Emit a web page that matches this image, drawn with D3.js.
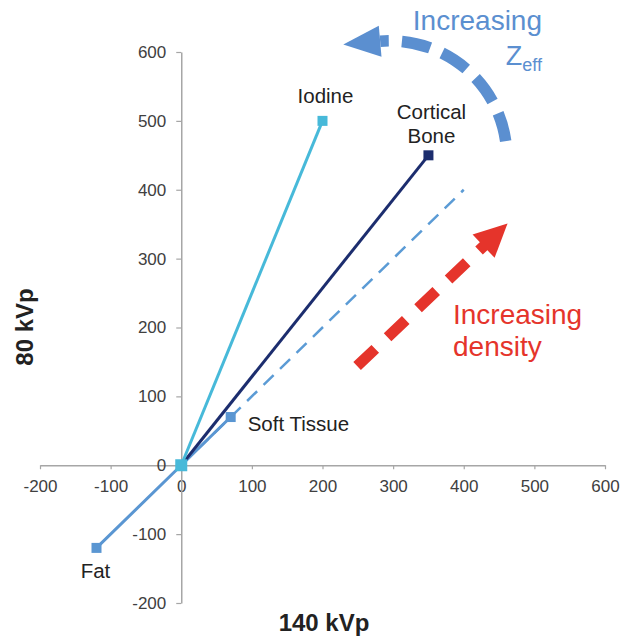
<!DOCTYPE html>
<html>
<head>
<meta charset="utf-8">
<script src="https://cdn.jsdelivr.net/npm/d3@7"></script>
<style>
  body { margin: 0; background: #fff; }
  svg { font-family: "Liberation Sans", Arial, sans-serif; }
</style>
</head>
<body>
<div id="chart"></div>
<script>
// data
var axisTicks = [-200, -100, 0, 100, 200, 300, 400, 500, 600];
var materials = ["Iodine", "Cortical Bone", "Soft Tissue", "Fat"];
var hu140 = [200, 350, 70, -120];
var hu80 = [500, 450, 70, -120];
var origin = [0, 0];
var waterLine = [[0, 0], [400, 400]];

// annotation anchors, in data units (140 kVp, 80 kVp)
var densityArrow = [[249, 144], [462, 351]];
var zeffArc = { center: [296, 447], radius: 165, from: -8, to: -95 };

var width = 633, height = 638;

var x = d3.scaleLinear().domain([-200, 600]).range([40, 605]);
var y = d3.scaleLinear().domain([-200, 600]).range([603, 52]);

var svg = d3.select("#chart")
  .append("svg")
  .attr("width", width)
  .attr("height", height);

// axes (plain hyphen for negatives, like the original)
var fmt = function (d) { return String(d); };

var xAxis = svg.append("g")
  .attr("transform", "translate(0," + y(0) + ")")
  .call(d3.axisBottom(x).tickValues(axisTicks).tickFormat(fmt)
    .tickSizeInner(4).tickSizeOuter(0).tickPadding(11));

var yAxis = svg.append("g")
  .attr("transform", "translate(" + x(0) + ",0)")
  .call(d3.axisLeft(y).tickValues(axisTicks).tickFormat(fmt)
    .tickSizeInner(5).tickSizeOuter(0).tickPadding(10));

[xAxis, yAxis].forEach(function (a) {
  a.select(".domain").attr("stroke", "#a6a6a6").attr("stroke-width", 1.5);
  a.selectAll(".tick line").attr("stroke", "#a6a6a6").attr("stroke-width", 1.2);
  a.selectAll(".tick text")
    .attr("fill", "#404040")
    .style("font-size", "17px")
    .style("font-family", "'Liberation Sans', Arial, sans-serif");
});

// axis titles
svg.append("text")
  .attr("x", 324).attr("y", 631)
  .attr("text-anchor", "middle")
  .style("font-size", "24px").style("font-weight", "bold")
  .attr("fill", "#222")
  .text("140 kVp");

svg.append("text")
  .attr("transform", "translate(33,327) rotate(-90)")
  .attr("text-anchor", "middle")
  .style("font-size", "24px").style("font-weight", "bold")
  .attr("fill", "#222")
  .text("80 kVp");

var line = d3.line().x(function (d) { return x(d[0]); }).y(function (d) { return y(d[1]); });

// water / reference dashed line
svg.append("path")
  .datum(waterLine)
  .attr("d", line)
  .attr("fill", "none")
  .attr("stroke", "#5b9bd5")
  .attr("stroke-width", 2.5)
  .attr("stroke-dasharray", "14,9");

var pts = materials.map(function (m, i) { return [hu140[i], hu80[i]]; });

var series = [
  { pts: [pts[3], origin, pts[2]], color: "#5a96d2", marks: [pts[3], pts[2]], size: 10 },
  { pts: [origin, pts[1]], color: "#1c2d6e", marks: [pts[1]], size: 10 },
  { pts: [origin, pts[0]], color: "#47b9d9", marks: [pts[0]], size: 10 },
  { pts: [origin], color: "#47b9d9", marks: [origin], size: 12 }
];

series.forEach(function (s) {
  svg.append("path")
    .datum(s.pts)
    .attr("d", line)
    .attr("fill", "none")
    .attr("stroke", s.color)
    .attr("stroke-width", 3);
  svg.selectAll(null)
    .data(s.marks)
    .enter()
    .append("rect")
    .attr("x", function (d) { return x(d[0]) - s.size / 2; })
    .attr("y", function (d) { return y(d[1]) - s.size / 2; })
    .attr("width", s.size).attr("height", s.size)
    .attr("fill", s.color);
});

// point labels
var labelStyle = [
  { dx: 3, dy: -18, anchor: "middle", lines: ["Iodine"] },
  { dx: 3, dy: -36, anchor: "middle", lines: ["Cortical", "Bone"] },
  { dx: 17, dy: 14, anchor: "start", lines: ["Soft Tissue"] },
  { dx: -1, dy: 30, anchor: "middle", lines: ["Fat"] }
];

materials.forEach(function (m, i) {
  var t = svg.append("text")
    .attr("x", x(pts[i][0]) + labelStyle[i].dx)
    .attr("y", y(pts[i][1]) + labelStyle[i].dy)
    .attr("text-anchor", labelStyle[i].anchor)
    .attr("fill", "#222")
    .style("font-size", "20.5px");
  labelStyle[i].lines.forEach(function (l, j) {
    t.append("tspan")
      .attr("x", x(pts[i][0]) + labelStyle[i].dx)
      .attr("dy", j === 0 ? 0 : 24)
      .text(l);
  });
});

// increasing density arrow
var red = "#e5342b";
var p0 = [x(densityArrow[0][0]), y(densityArrow[0][1])];
var p1 = [x(densityArrow[1][0]), y(densityArrow[1][1])];
var ang = Math.atan2(p1[1] - p0[1], p1[0] - p0[0]);
var headLen = 33, headW = 32;
var base = [p1[0] - headLen * Math.cos(ang), p1[1] - headLen * Math.sin(ang)];

svg.append("line")
  .attr("x1", p0[0]).attr("y1", p0[1])
  .attr("x2", base[0] + 4 * Math.cos(ang)).attr("y2", base[1] + 4 * Math.sin(ang))
  .attr("stroke", red)
  .attr("stroke-width", 11)
  .attr("stroke-dasharray", "25,17");

function head(tip, b, a, w) {
  var nx = -Math.sin(a) * w / 2, ny = Math.cos(a) * w / 2;
  return "M" + tip[0] + "," + tip[1] +
    "L" + (b[0] + nx) + "," + (b[1] + ny) +
    "L" + (b[0] - nx) + "," + (b[1] - ny) + "Z";
}

svg.append("path").attr("d", head(p1, base, ang, headW)).attr("fill", red);

svg.append("text")
  .attr("x", 453).attr("y", 324)
  .attr("fill", red)
  .style("font-size", "28px")
  .text("Increasing");
svg.append("text")
  .attr("x", 453).attr("y", 356)
  .attr("fill", red)
  .style("font-size", "28px")
  .text("density");

// increasing Zeff arc arrow
var blue = "#5b8fd0";
var cx = x(zeffArc.center[0]), cy = y(zeffArc.center[1]);
var r = x(zeffArc.center[0] + zeffArc.radius) - cx;
var a0 = zeffArc.from * Math.PI / 180, a1 = zeffArc.to * Math.PI / 180;
var arc = d3.path();
arc.moveTo(cx + r * Math.cos(a0), cy + r * Math.sin(a0));
arc.arc(cx, cy, r, a0, a1, true);

svg.append("path")
  .attr("d", arc.toString())
  .attr("fill", "none")
  .attr("stroke", blue)
  .attr("stroke-width", 11.5)
  .attr("stroke-dasharray", "29,13");

var hb = [cx + r * Math.cos(a1), cy + r * Math.sin(a1)];
var dir = Math.atan2(-Math.cos(a1), Math.sin(a1));
var htip = [hb[0] + 37 * Math.cos(dir), hb[1] + 37 * Math.sin(dir)];
svg.append("path").attr("d", head(htip, hb, dir, 31)).attr("fill", blue);

svg.append("text")
  .attr("x", 542).attr("y", 30)
  .attr("text-anchor", "end")
  .attr("fill", blue)
  .style("font-size", "28px")
  .text("Increasing");

var z = svg.append("text")
  .attr("x", 542).attr("y", 65)
  .attr("text-anchor", "end")
  .attr("fill", blue)
  .style("font-size", "27px");
z.append("tspan").text("Z");
z.append("tspan").attr("dy", 6).style("font-size", "18px").text("eff");
</script>
</body>
</html>
